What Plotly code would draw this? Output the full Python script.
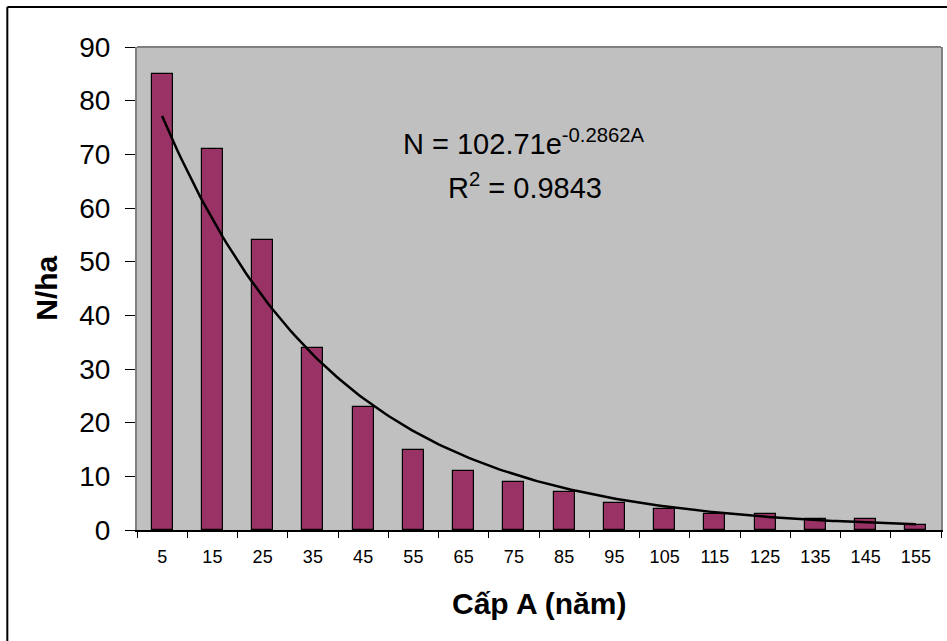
import numpy as np
import plotly.graph_objects as go

# ---- data ----
age_classes = ["5", "15", "25", "35", "45", "55", "65", "75", "85", "95",
               "105", "115", "125", "135", "145", "155"]
n_per_ha = [85, 71, 54, 34, 23, 15, 11, 9, 7, 5, 4, 3, 3, 2, 2, 1]
equation_text = "N = 102.71e<sup>-0.2862A</sup>"
r2_text = "R<sup>2</sup> = 0.9843"

# category positions (1..16) used as numeric x
idx = np.arange(1, len(n_per_ha) + 1)

# exponential trendline fitted to the data (as Excel does: ln-linear fit)
slope, intercept = np.polyfit(idx, np.log(n_per_ha), 1)
xt = np.linspace(idx[0], idx[-1], 200)
yt = np.exp(intercept) * np.exp(slope * xt)

FONT = "Liberation Sans, Arial, sans-serif"

fig = go.Figure()
fig.add_trace(go.Bar(
    x=idx, y=n_per_ha, width=0.42,
    marker=dict(color="#993366", line=dict(color="black", width=1.2)),
    showlegend=False, hoverinfo="x+y",
))
fig.add_trace(go.Scatter(
    x=xt, y=yt, mode="lines",
    line=dict(color="black", width=2.5),
    showlegend=False, hoverinfo="skip",
))

L, R, T, B = 137, 4, 47, 111
W, H = 947, 641
pw = W - L - R
ph = H - T - B

def px_x(p):
    return (p - L) / pw

def px_y(p):
    return (H - B - p) / ph

fig.update_layout(
    width=W, height=H,
    margin=dict(l=L, r=R, t=T, b=B, pad=0),
    paper_bgcolor="white",
    plot_bgcolor="#C0C0C0",
    font=dict(family=FONT, color="black"),
    bargap=0,
    xaxis=dict(
        range=[0.5, 16.5],
        tickmode="array", tickvals=list(idx), ticktext=age_classes,
        ticks="", showgrid=False, zeroline=False,
        tickfont=dict(size=18, family=FONT, color="black"),
        ticklabelstandoff=10,
        showline=True, linecolor="black", linewidth=1.5,
        minor=dict(tick0=0.5, dtick=1, ticks="outside", ticklen=6,
                   tickcolor="black", tickwidth=1, showgrid=False),
        fixedrange=True,
    ),
    yaxis=dict(
        range=[0, 90], dtick=10, tick0=0,
        ticks="outside", ticklen=10, tickcolor="black", tickwidth=1,
        showgrid=False, zeroline=False,
        tickfont=dict(size=28, family=FONT, color="black"),
        ticklabelstandoff=9,
        showline=True, mirror=True, linecolor="#808080", linewidth=2,
        fixedrange=True,
    ),
    annotations=[
        dict(text=equation_text, xref="paper", yref="paper",
             x=px_x(525), y=px_y(142), xanchor="center", yanchor="middle",
             showarrow=False, font=dict(size=29, family=FONT, color="black")),
        dict(text=r2_text, xref="paper", yref="paper",
             x=px_x(526), y=px_y(186), xanchor="center", yanchor="middle",
             showarrow=False, font=dict(size=29, family=FONT, color="black")),
        dict(text="<b>N/ha</b>", xref="paper", yref="paper",
             x=px_x(46), y=0.5, xanchor="center", yanchor="middle",
             textangle=-90, showarrow=False,
             font=dict(size=30, family=FONT, color="black")),
        dict(text="<b>Cấp A (năm)</b>", xref="paper", yref="paper",
             x=0.5, y=px_y(603), xanchor="center", yanchor="middle",
             showarrow=False, font=dict(size=30, family=FONT, color="black")),
    ],
    shapes=[
        # grey top border of plot area
        dict(type="line", xref="paper", yref="paper", x0=0, x1=1, y0=1, y1=1,
             line=dict(color="#808080", width=2)),
        # outer chart frame (left and top edges visible)
        dict(type="line", xref="paper", yref="paper",
             x0=px_x(7), x1=px_x(7), y0=px_y(660), y1=px_y(7),
             line=dict(color="black", width=2)),
        dict(type="line", xref="paper", yref="paper",
             x0=px_x(7), x1=px_x(960), y0=px_y(7), y1=px_y(7),
             line=dict(color="black", width=2)),
    ],
)

fig.write_html(
    "out.html",
    config={"displayModeBar": False},
    post_script="document.body.style.margin='0';document.body.style.overflow='hidden';",
)
